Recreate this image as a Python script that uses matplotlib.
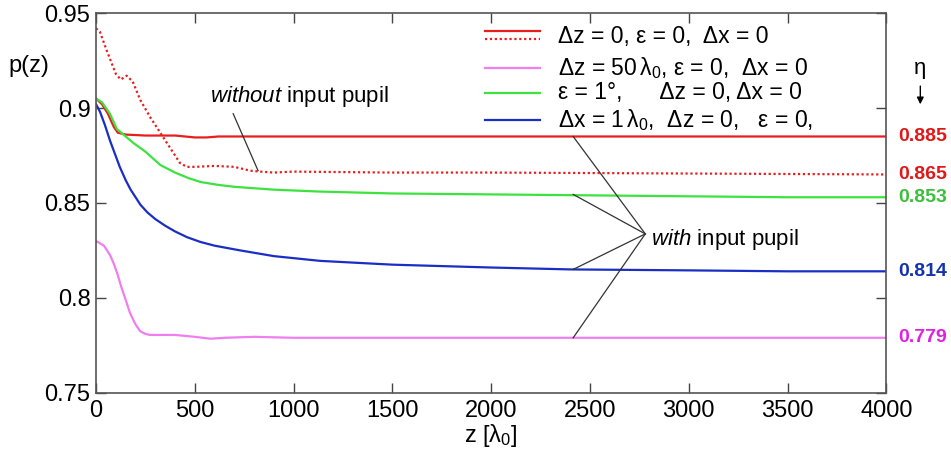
import matplotlib
matplotlib.use("Agg")
import matplotlib.pyplot as plt
from matplotlib.ticker import FormatStrFormatter, MultipleLocator

plt.rcParams['font.family'] = ['Liberation Sans', 'DejaVu Sans']
plt.rcParams['mathtext.fontset'] = 'custom'
plt.rcParams['mathtext.rm'] = 'Liberation Sans'
plt.rcParams['mathtext.it'] = 'Liberation Sans:italic'

# values
z_red = [0, 30, 60, 90, 110, 150, 250, 400, 500, 560, 620, 700, 1000, 2000, 3000, 4000]
p_red = [0.905, 0.902, 0.897, 0.890, 0.887, 0.886, 0.8855, 0.8855, 0.8845, 0.8845,
         0.885, 0.885, 0.885, 0.885, 0.885, 0.885]

z_red_nopupil = [0, 20, 55, 100, 125, 155, 185, 225, 275, 325, 375, 425, 460, 500,
                 600, 700, 780, 830, 900, 1000, 1500, 2000, 3000, 4000]
p_red_nopupil = [0.942, 0.940, 0.930, 0.918, 0.915, 0.917, 0.914, 0.904, 0.895, 0.887,
                 0.879, 0.871, 0.869, 0.869, 0.8695, 0.869, 0.867, 0.8665, 0.866,
                 0.8665, 0.866, 0.866, 0.8655, 0.865]

z_green = [0, 30, 70, 105, 150, 190, 250, 325, 400, 470, 530, 620, 700, 900, 1130,
           1500, 2000, 2500, 3000, 3500, 4000]
p_green = [0.905, 0.903, 0.897, 0.889, 0.885, 0.8815, 0.877, 0.870, 0.866, 0.863,
           0.861, 0.8595, 0.8585, 0.857, 0.856, 0.855, 0.8545, 0.854, 0.8535, 0.853,
           0.853]

z_blue = [0, 20, 45, 70, 95, 120, 150, 175, 200, 225, 260, 300, 350, 400, 460, 527,
          600, 730, 900, 1134, 1500, 2000, 2400, 3000, 3500, 4000]
p_blue = [0.902, 0.898, 0.891, 0.883, 0.876, 0.869, 0.862, 0.857, 0.853, 0.849,
          0.845, 0.8415, 0.838, 0.835, 0.832, 0.8295, 0.8275, 0.825, 0.822, 0.8195,
          0.8175, 0.816, 0.815, 0.8145, 0.814, 0.814]

z_mag = [0, 40, 71, 90, 110, 130, 150, 172, 200, 223, 250, 273, 400, 500, 580, 650,
         800, 1000, 2000, 4000]
p_mag = [0.830, 0.8275, 0.8225, 0.818, 0.812, 0.805, 0.799, 0.792, 0.786, 0.7825,
         0.781, 0.7805, 0.7805, 0.7795, 0.7785, 0.779, 0.7795, 0.779, 0.779, 0.779]

eta_labels = ["0.885", "0.865", "0.853", "0.814", "0.779"]

legend_labels = [
    r"Δz = 0, ε = 0,  Δx = 0",
    r"Δz = 50$\,\mathrm{\lambda_0}$, ε = 0,  Δx = 0",
    r"ε = 1°,      Δz = 0, Δx = 0",
    r"Δx = 1$\,\mathrm{\lambda_0}$,  Δz = 0,   ε = 0,",
]

RED = '#e81e1e'
MAG = '#f07ef0'
GREEN = '#3ee23e'
BLUE = '#1a2ec4'
label_colors = ['#e01818', '#e01818', '#3cc03c', '#1232b0', '#e020e0']

fig = plt.figure(figsize=(9.51, 4.5), dpi=100)
ax = fig.add_axes([0.101, 0.127, 0.831, 0.844])

ax.plot(z_red, p_red, color=RED, lw=1.6)
ax.plot(z_red_nopupil, p_red_nopupil, color=RED, lw=1.6, ls=(0, (1, 1.2)))
ax.plot(z_mag, p_mag, color=MAG, lw=1.6)
ax.plot(z_green, p_green, color=GREEN, lw=1.6)
ax.plot(z_blue, p_blue, color=BLUE, lw=1.6)

ax.set_xlim(0, 4000)
ax.set_ylim(0.75, 0.95)
ax.xaxis.set_major_locator(MultipleLocator(500))
ax.yaxis.set_major_locator(MultipleLocator(0.05))
ax.yaxis.set_major_formatter(FormatStrFormatter('%g'))
ax.tick_params(direction='in', length=7, width=1, top=True, right=True,
               labelsize=17, colors='#444444', labelcolor='black')
ax.tick_params(axis='x', pad=5)
ax.tick_params(axis='y', pad=4)
for s in ax.spines.values():
    s.set_color('#555555')
    s.set_linewidth(1.2)

ax.set_xlabel(r"z [$\mathrm{\lambda_0}$]", fontsize=17, labelpad=0)
ax.text(-0.085, 0.86, "p(z)", transform=ax.transAxes, fontsize=17,
        ha='center', va='center')

# legend drawn by hand so the red entry can show both line styles
leg_y = [0.937, 0.855, 0.79, 0.718]
ax.plot([0.492, 0.562], [0.954, 0.954], color=RED, lw=1.6, transform=ax.transAxes)
ax.plot([0.492, 0.562], [0.932, 0.932], color=RED, lw=1.6, ls=(0, (1, 1.2)),
        transform=ax.transAxes)
for y, c in zip(leg_y[1:], [MAG, GREEN, BLUE]):
    ax.plot([0.492, 0.562], [y, y], color=c, lw=1.6, transform=ax.transAxes)
for y, t in zip(leg_y, legend_labels):
    ax.text(0.584, y, t, transform=ax.transAxes, fontsize=16.5, va='center')

# eta values at the right edge
finals = [p_red[-1], p_red_nopupil[-1], p_green[-1], p_blue[-1], p_mag[-1]]
for v, t, c in zip(finals, eta_labels, label_colors):
    ax.annotate(t, xy=(1.015, v), xycoords=('axes fraction', 'data'),
                fontsize=14, fontweight='bold', color=c, va='center',
                annotation_clip=False)
ax.text(1.043, 0.921, "η", transform=ax.get_yaxis_transform(), fontsize=16,
        ha='center', va='center')
ax.annotate("", xy=(1.043, 0.9005), xytext=(1.043, 0.913),
            xycoords=('axes fraction', 'data'), textcoords=('axes fraction', 'data'),
            arrowprops=dict(arrowstyle='-|>', color='black', lw=1,
                            mutation_scale=10), annotation_clip=False)

# annotations
ax.text(1030, 0.906, r"$\it{without}$ input pupil", fontsize=16, ha='center', va='center')
ax.plot([694, 820], [0.897, 0.867], color='#333333', lw=0.9)

ax.text(2810, 0.831, r"$\it{with}$ input pupil", fontsize=16, ha='left', va='center')
hub = (2780, 0.8337)
for v in [p_red[-1], 0.8545, 0.815, p_mag[-1]]:
    ax.plot([2415, hub[0]], [v, hub[1]], color='#333333', lw=0.9)

fig.savefig("out.png", dpi=100, facecolor='white')
